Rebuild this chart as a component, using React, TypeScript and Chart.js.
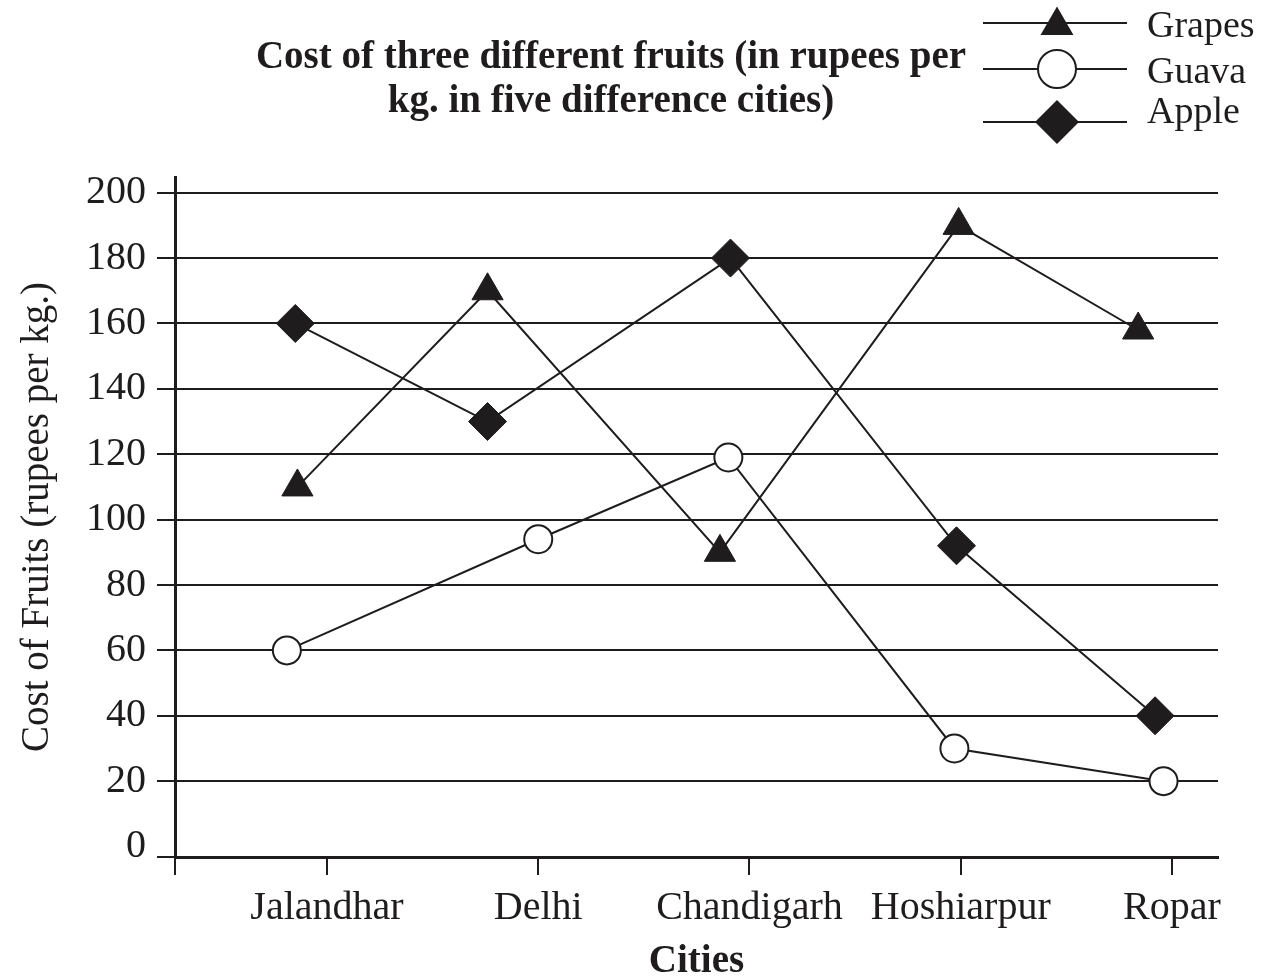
import React, { useEffect, useRef } from "react";
import { Chart, registerables } from "chart.js";

Chart.register(...registerables);

// ---- data ----
const cities = ["Jalandhar", "Delhi", "Chandigarh", "Hoshiarpur", "Ropar"];
const yTickValues = [0, 20, 40, 60, 80, 100, 120, 140, 160, 180, 200];

const grapes = [110, 170, 90, 190, 158];
const guava = [60, 94, 119, 30, 20];
const apple = [160, 130, 180, 92, 40];

// horizontal placement of each point, in city units, relative to its city tick
const grapesShift = [-0.14, -0.24, -0.14, -0.01, -0.16];
const guavaShift = [-0.19, 0.0, -0.1, -0.03, -0.04];
const appleShift = [-0.15, -0.24, -0.09, -0.02, -0.08];

const titleLines = [
  "Cost of three different fruits (in rupees per",
  "kg. in five difference cities)",
];
const yTitle = "Cost of Fruits (rupees per kg.)";
const xTitle = "Cities";

const INK = "#1f1c1d";
const FONT = '"Liberation Serif", "Times New Roman", serif';

const Y_MIN = -3.2;
const Y_MAX = 204.8;
const X_MIN = -0.7195;
const X_MAX = 4.2178;

const toPoints = (vals: number[], shift: number[]) =>
  vals.map((v, i) => ({ x: i + shift[i], y: v }));

function drawMarker(ctx: CanvasRenderingContext2D, style: string, x: number, y: number, r: number) {
  ctx.beginPath();
  if (style === "triangle") {
    ctx.moveTo(x, y - r);
    ctx.lineTo(x + r * Math.sin((2 * Math.PI) / 3), y + r / 2);
    ctx.lineTo(x - r * Math.sin((2 * Math.PI) / 3), y + r / 2);
    ctx.closePath();
    ctx.fillStyle = INK;
    ctx.fill();
  } else if (style === "circle") {
    ctx.arc(x, y, r, 0, Math.PI * 2);
    ctx.fillStyle = "#ffffff";
    ctx.fill();
    ctx.lineWidth = 2;
    ctx.strokeStyle = INK;
    ctx.stroke();
  } else {
    ctx.moveTo(x - r, y);
    ctx.lineTo(x, y - r);
    ctx.lineTo(x + r, y);
    ctx.lineTo(x, y + r);
    ctx.closePath();
    ctx.fillStyle = INK;
    ctx.fill();
  }
}

const decorPlugin = {
  id: "decor",
  afterDraw(chart: any) {
    const ctx: CanvasRenderingContext2D = chart.ctx;
    ctx.save();
    // title
    ctx.fillStyle = INK;
    ctx.textAlign = "center";
    ctx.textBaseline = "alphabetic";
    ctx.font = `bold 39px ${FONT}`;
    titleLines.forEach((t, i) => ctx.fillText(t, 611, 68 + i * 44));

    // legend
    const rows = [
      { line: 23, marker: 25.5, base: 37, r: 19 },
      { line: 69, marker: 69, base: 83, r: 19 },
      { line: 122, marker: 122, base: 123, r: 22 },
    ];
    chart.data.datasets.forEach((ds: any, i: number) => {
      const row = rows[i];
      ctx.beginPath();
      ctx.moveTo(983, row.line);
      ctx.lineTo(1127, row.line);
      ctx.lineWidth = 2;
      ctx.strokeStyle = INK;
      ctx.stroke();
      drawMarker(ctx, ds.pointStyle, 1057, row.marker, row.r);
      ctx.fillStyle = INK;
      ctx.font = `38px ${FONT}`;
      ctx.textAlign = "left";
      ctx.textBaseline = "alphabetic";
      ctx.fillText(ds.label, 1147, row.base);
    });
    ctx.restore();
  },
};

export default function App() {
  const canvasRef = useRef<HTMLCanvasElement | null>(null);

  useEffect(() => {
    const canvas = canvasRef.current;
    if (!canvas) return;
    const chart = new Chart(canvas, {
      type: "line",
      data: {
        datasets: [
          {
            label: "Grapes",
            data: toPoints(grapes, grapesShift),
            borderColor: INK,
            borderWidth: 2,
            pointStyle: "triangle",
            pointRadius: 18,
            pointBackgroundColor: INK,
            pointBorderColor: INK,
            pointBorderWidth: 1,
            tension: 0,
          },
          {
            label: "Guava",
            data: toPoints(guava, guavaShift),
            borderColor: INK,
            borderWidth: 2,
            pointStyle: "circle",
            pointRadius: 14,
            pointBackgroundColor: "#ffffff",
            pointBorderColor: INK,
            pointBorderWidth: 2,
            tension: 0,
          },
          {
            label: "Apple",
            data: toPoints(apple, appleShift),
            borderColor: INK,
            borderWidth: 2,
            pointStyle: "rectRot",
            pointRadius: 19,
            pointBackgroundColor: INK,
            pointBorderColor: INK,
            pointBorderWidth: 1,
            tension: 0,
          },
        ],
      },
      options: {
        animation: false,
        responsive: false,
        maintainAspectRatio: false,
        devicePixelRatio: 1,
        layout: { padding: { top: 177, right: 68, left: 0, bottom: 0 } },
        plugins: {
          legend: { display: false },
          title: { display: false },
          tooltip: { enabled: false },
        },
        scales: {
          x: {
            type: "linear",
            min: X_MIN,
            max: X_MAX,
            afterBuildTicks: (s: any) => {
              s.ticks = [{ value: X_MIN }, ...cities.map((_, i) => ({ value: i }))];
            },
            afterFit: (s: any) => {
              s.height = 122;
            },
            ticks: {
              callback: (v: any) => (Number.isInteger(v) && cities[v] ? cities[v] : ""),
              font: { family: FONT, size: 40 },
              color: INK,
              padding: 9,
              autoSkip: false,
              maxRotation: 0,
              minRotation: 0,
            },
            grid: {
              drawOnChartArea: false,
              drawTicks: true,
              tickLength: 18,
              color: INK,
              lineWidth: 2,
            },
            border: { display: true, color: INK, width: 3 },
            title: {
              display: true,
              text: xTitle,
              color: INK,
              font: { family: FONT, size: 39, weight: "bold", lineHeight: 1 },
              padding: { top: 0, bottom: -2 },
            },
          },
          y: {
            type: "linear",
            min: Y_MIN,
            max: Y_MAX,
            afterBuildTicks: (s: any) => {
              s.ticks = [{ value: Y_MIN }, ...yTickValues.map((v) => ({ value: v }))];
            },
            afterFit: (s: any) => {
              s.width = 175;
            },
            ticks: {
              callback: (v: any) => (v === Y_MIN ? "" : String(v)),
              font: { family: FONT, size: 40 },
              color: INK,
              padding: 11,
            },
            grid: {
              color: (c: any) => (c.tick && c.tick.value === 0 ? "rgba(0,0,0,0)" : INK),
              lineWidth: 2,
              tickLength: 18,
              drawTicks: true,
            },
            border: { display: true, color: INK, width: 3 },
            title: {
              display: true,
              text: yTitle,
              color: INK,
              font: { family: FONT, size: 39 },
              padding: { top: 14, bottom: 0 },
            },
          },
        },
      },
      plugins: [decorPlugin],
    } as any);
    return () => chart.destroy();
  }, []);

  return (
    <div style={{ position: "fixed", left: 0, top: 0, width: 1286, height: 979, background: "#ffffff" }}>
      <canvas ref={canvasRef} width={1286} height={979} style={{ display: "block", width: 1286, height: 979 }} />
    </div>
  );
}
